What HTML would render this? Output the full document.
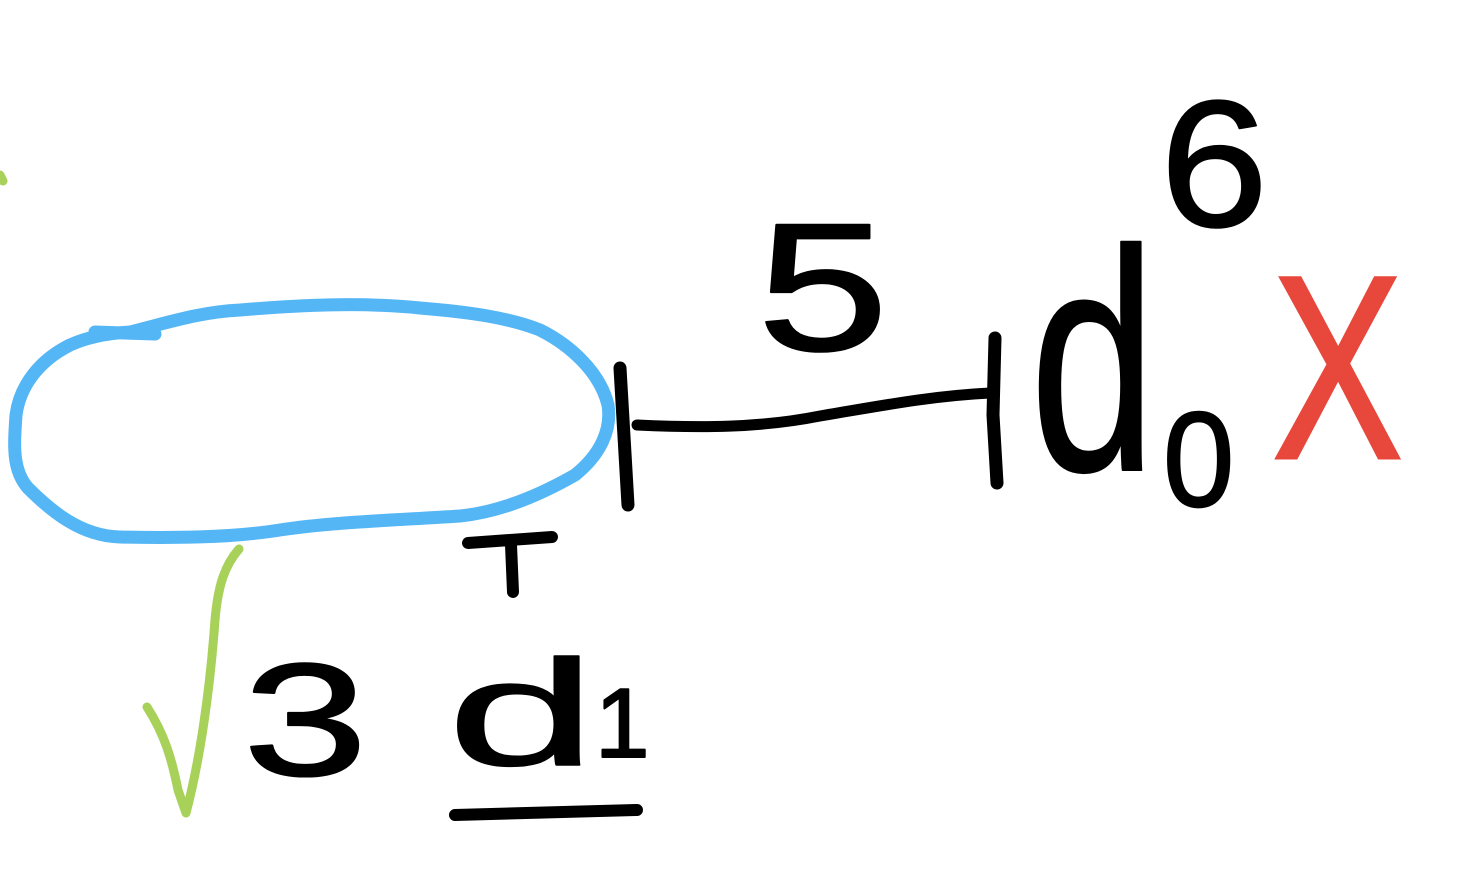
<!DOCTYPE html>
<html>
<head>
<meta charset="utf-8">
<style>
  html,body{margin:0;padding:0;background:#fff;}
  svg{display:block;}
  text{font-family:"Liberation Sans",sans-serif;}
</style>
</head>
<body>
<svg width="1478" height="894" viewBox="0 0 1478 894" xmlns="http://www.w3.org/2000/svg">
  <g fill="none" stroke-linecap="round" stroke-linejoin="round">
    <path stroke="#55b6f5" stroke-width="13"
      d="M95,332 L155,334 M130,332 C170,322 200,312 240,310 C300,305 360,302 420,308 C470,312 510,318 540,330 C570,345 600,372 608,405 C612,430 600,455 575,475 C540,495 500,512 460,516 C400,520 330,522 280,530 C230,538 170,538 120,537 C80,536 50,510 28,488 C12,470 14,445 16,415 C20,385 40,360 70,345 C90,336 110,333 130,332"/>
    <path stroke="#000" stroke-width="13" d="M620,368 L628,505"/>
    <path stroke="#000" stroke-width="11" d="M637,425 C700,428 760,428 820,416 C880,406 930,396 990,393"/>
    <path stroke="#000" stroke-width="13" d="M995,338 L993,415 L997,483"/>
    <path stroke="#000" stroke-width="12" d="M468,543 L552,537 M511,545 L513,592"/>
    <path stroke="#000" stroke-width="12" d="M455,815 L637,810"/>
    <path stroke="#a8d15a" stroke-width="9" d="M147,707 C165,735 172,760 178,790 L186,813 C200,760 210,690 215,620 C218,585 225,565 239,549"/>
    <path stroke="#a8d15a" stroke-width="9" d="M0,175 L3,181"/>
  </g>
  <g stroke="#000" stroke-width="2" stroke-linejoin="round">
    <text transform="translate(757,350) scale(1.3,1)" font-size="182" fill="#000">5</text>
    <text transform="translate(1160,226) scale(1.08,1)" font-size="180" fill="#000">6</text>
    <text transform="translate(1030,470) scale(0.72,1)" font-size="315" fill="#000">d</text>
    <text transform="translate(1163,506) scale(0.95,1)" font-size="135" fill="#000">0</text>
    <text transform="translate(243,775) scale(1.4,1)" font-size="160" fill="#000">3</text>
    <text transform="translate(447,765) scale(1.25,0.7)" font-size="215" fill="#000">d</text>
    <text x="595" y="757" font-size="98" fill="#000">1</text>
  </g>
  <text transform="translate(1272,458) scale(0.75,1)" font-size="262" fill="#e8473b" stroke="#e8473b" stroke-width="3">X</text>
</svg>
</body>
</html>
